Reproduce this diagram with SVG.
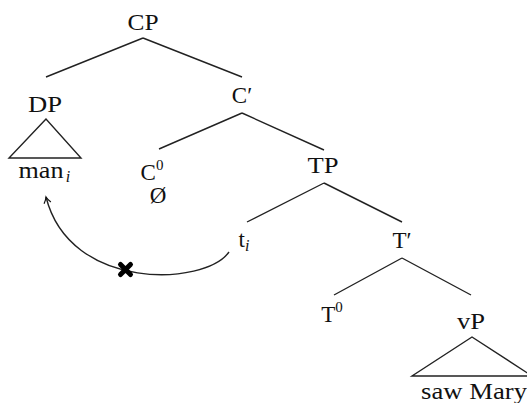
<svg xmlns="http://www.w3.org/2000/svg" width="527" height="403" viewBox="0 0 527 403">
<style>
text{font-family:"Liberation Serif","DejaVu Serif",serif;font-size:23px;fill:#111;text-anchor:middle}
.sup{font-size:15px}
.sub{font-size:16px;font-style:italic}
.e{stroke:#222;stroke-width:1.4;fill:none}
</style>
<defs>
<marker id="ah" markerWidth="10" markerHeight="10" refX="8" refY="5" orient="auto" markerUnits="userSpaceOnUse">
<path d="M2,1.5 Q5,4 8,5 Q5,6 2,8.5" fill="none" stroke="#111" stroke-width="1.2"/>
</marker>
</defs>
<rect width="527" height="403" fill="#fff"/>
<g id="edges">
<path class="e" d="M143,38 L46,77 M143,38 L242,77"/>
<path class="e" d="M242,113 L159,149 M242,113 L324,150"/>
<path class="e" d="M324,183 L247,222 M324,183 L402,222"/>
<path class="e" d="M402,258 L334,295 M402,258 L471,295"/>
</g>
<g id="CP"><text x="143" y="30" textLength="31" lengthAdjust="spacingAndGlyphs">CP</text></g>
<g id="DP"><text x="45" y="112" textLength="34" lengthAdjust="spacingAndGlyphs">DP</text>
<path class="e" d="M46,119 L9,158 L81,158 Z"/>
<text x="41" y="178" textLength="45" lengthAdjust="spacingAndGlyphs">man</text><text x="68" y="182" class="sub">i</text></g>
<g id="Cbar"><text x="242" y="103">C′</text></g>
<g id="C0"><text x="152" y="180">C<tspan class="sup" dy="-10">0</tspan></text>
<text x="158" y="203">Ø</text></g>
<g id="TP"><text x="323" y="173" textLength="31" lengthAdjust="spacingAndGlyphs">TP</text></g>
<g id="ti"><text x="244" y="247">t<tspan class="sub" dy="4">i</tspan></text></g>
<g id="Tbar"><text x="402" y="248">T′</text></g>
<g id="T0"><text x="332" y="322">T<tspan class="sup" dy="-10">0</tspan></text></g>
<g id="vP"><text x="471" y="329" textLength="28" lengthAdjust="spacingAndGlyphs">vP</text>
<path class="e" d="M472,337 L412,376 L532,376 Z"/>
<text x="474" y="399" textLength="106" lengthAdjust="spacingAndGlyphs">saw Mary</text></g>
<g id="movement">
<path class="e" d="M229,252 C205,286 70,292 46,197" marker-end="url(#ah)"/>
<path d="M120.5,264.5 L130.5,274.5 M130.5,264.5 L120.5,274.5" stroke="#000" stroke-width="5" stroke-linecap="round"/>
</g>
</svg>
